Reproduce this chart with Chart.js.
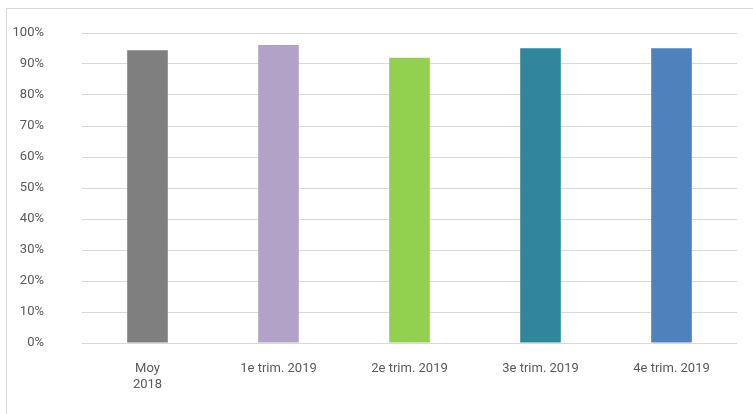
<!DOCTYPE html>
<html>
<head>
<meta charset="utf-8">
<script src="https://cdn.jsdelivr.net/npm/chart.js@4"></script>
<style>
    html, body { margin: 0; padding: 0; background: #fff; }
    .wrap { position: relative; width: 753px; height: 414px; overflow: hidden; }
    .frame { position: absolute; left: 6px; top: 8px; width: 800px; height: 500px; border: 1px solid #d9d9d9; box-sizing: border-box; }
    canvas { position: absolute; left: 0; top: 0; }
</style>
</head>
<body>
<div class="wrap">
    <div class="frame"></div>
    <canvas id="chart" width="753" height="414"></canvas>
</div>
<script>
let categories = [["Moy", "2018"], "1e trim. 2019", "2e trim. 2019", "3e trim. 2019", "4e trim. 2019"]
let values = [94.4, 96.1, 92.0, 95.1, 95.1]
let barColors = ["#7f7f7f", "#b3a2c7", "#92d050", "#31859c", "#4f81bd"]
let yTicks = [0, 10, 20, 30, 40, 50, 60, 70, 80, 90, 100]

const font = { family: "'Liberation Sans Narrow', 'Roboto', sans-serif", size: 13 }

new Chart(document.getElementById('chart'), {
    type: 'bar',
    data: {
        labels: categories,
        datasets: [{
            data: values,
            backgroundColor: barColors,
            borderWidth: 0,
            barPercentage: 0.31,
            categoryPercentage: 1,
        }]
    },
    options: {
        responsive: false,
        animation: false,
        layout: {
            padding: { top: 33, right: 16, left: 0, bottom: 0 }
        },
        scales: {
            x: {
                grid: { display: false },
                border: { display: false },
                ticks: {
                    color: '#595959',
                    font: font,
                    padding: 10,
                    maxRotation: 0,
                    autoSkip: false,
                },
                afterFit: function (scale) {
                    scale.height = 71
                }
            },
            y: {
                min: 0,
                max: 100,
                afterBuildTicks: function (scale) {
                    scale.ticks = yTicks.map(v => ({ value: v }))
                },
                grid: { color: '#d9d9d9', lineWidth: 1, drawTicks: false },
                border: { display: false },
                ticks: {
                    color: '#595959',
                    font: font,
                    padding: 38,
                    callback: function (v) { return v + '%' }
                },
                afterFit: function (scale) {
                    scale.width = 82
                    scale.paddingTop = 0
                    scale.paddingBottom = 0
                }
            }
        },
        plugins: {
            legend: { display: false },
            tooltip: { enabled: false }
        }
    }
});
</script>
</body>
</html>
